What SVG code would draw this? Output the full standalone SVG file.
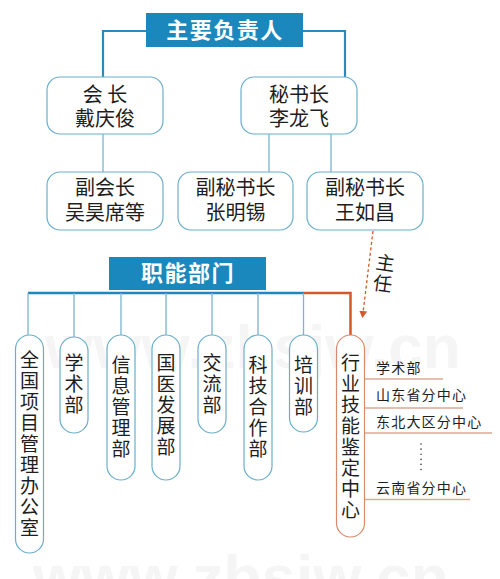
<svg xmlns="http://www.w3.org/2000/svg" width="500" height="579" viewBox="0 0 500 579">
<defs>
<style>
.t{font-family:"Noto Sans CJK SC","Noto Sans",sans-serif;fill:#1e1e1e;font-size:20px;text-anchor:middle}
.v{font-family:"Noto Sans CJK SC","Noto Sans",sans-serif;fill:#1e1e1e;font-size:19px;writing-mode:tb;text-anchor:start;letter-spacing:2px}
.h{font-family:"Noto Sans CJK SC","Noto Sans",sans-serif;fill:#ffffff;font-size:22px;font-weight:bold;text-anchor:middle;letter-spacing:1.5px}
.s{font-family:"Noto Sans CJK SC","Noto Sans",sans-serif;fill:#1e1e1e;font-size:14px;letter-spacing:1.2px}
.wm{font-family:"Liberation Sans",Arial,sans-serif;font-weight:bold;font-size:62px;fill:#f5f5f5}
.box{fill:#ffffff;stroke:#6aaecb;stroke-width:1.2}
.rbox{fill:#ffffff;stroke:#d98a6c;stroke-width:1.2}
.hd{fill:#1b88bd}
.thin{fill:none;stroke:#7ab6d0;stroke-width:1.3}
.thick{fill:none;stroke:#2a8ab8;stroke-width:2.2}
.red{fill:none;stroke:#d4582a;stroke-width:2.5}
.br{fill:none;stroke:#dcab94;stroke-width:1.3}
</style>
<marker id="ah" markerWidth="8" markerHeight="8" refX="6" refY="4" orient="auto" markerUnits="userSpaceOnUse">
<path d="M0,0 L7,4 L0,8 Z" fill="#d4582a"/>
</marker>
</defs>
<rect width="500" height="579" fill="#ffffff"/>
<g id="watermark">
<text class="wm" x="45" y="368">www.zbsjw.cn</text>
<text class="wm" x="33" y="598">www.zbsjw.cn</text>
</g>
<g id="connectors">
<path class="thick" d="M146 31 H103 V77 M303 31 H345 V77"/>
<path class="thin" d="M103 134 V172 M269 134 V172 M331 134 V172"/>
<path d="M373 231 L362.5 317" fill="none" stroke="#d4582a" stroke-width="1.3" stroke-dasharray="3 2.5" marker-end="url(#ah)"/>
<path d="M28 293 H304" fill="none" stroke="#1f87bd" stroke-width="2.5"/>
<path class="red" d="M304 293 H350.5 V335"/>
<path class="thin" d="M28 293 V335 M74 293 V337 M121 293 V335 M166 293 V335 M212 293 V335 M258 293 V335 M303.5 293 V335"/>
<path class="br" d="M365 379 H443 M365 408 H463 M365 433 H492 M365 499.5 H470"/>
<path d="M421 444 V470" fill="none" stroke="#444" stroke-width="1.6" stroke-linecap="round" stroke-dasharray="0.1 5"/>
</g>
<g id="n-main">
<rect class="hd" x="146" y="13" width="157" height="34"/>
<text class="h" x="225" y="38" font-size="23">主要负责人</text>
</g>
<g id="n-huizhang">
<rect class="box" x="47" y="77" width="116" height="57" rx="13"/>
<text class="t"><tspan x="105" y="102">会 长</tspan><tspan x="105" y="126">戴庆俊</tspan></text>
</g>
<g id="n-mishuzhang">
<rect class="box" x="241" y="77" width="116" height="57" rx="13"/>
<text class="t"><tspan x="299" y="102">秘书长</tspan><tspan x="299" y="126">李龙飞</tspan></text>
</g>
<g id="n-fuhuizhang">
<rect class="box" x="47" y="172" width="116" height="58" rx="13"/>
<text class="t"><tspan x="105" y="195">副会长</tspan><tspan x="105" y="220">吴昊席等</tspan></text>
</g>
<g id="n-fumishu1">
<rect class="box" x="178" y="172" width="115" height="58" rx="13"/>
<text class="t"><tspan x="235.5" y="195">副秘书长</tspan><tspan x="235.5" y="220">张明锡</tspan></text>
</g>
<g id="n-fumishu2">
<rect class="box" x="307" y="172" width="116" height="58" rx="13"/>
<text class="t"><tspan x="365" y="195">副秘书长</tspan><tspan x="365" y="220">王如昌</tspan></text>
</g>
<g id="label-zhuren">
<text class="v" x="384" y="253" font-size="19" transform="rotate(8 384 273)">主任</text>
</g>
<g id="n-zhineng">
<rect class="hd" x="109" y="257" width="157" height="33"/>
<text class="h" x="188" y="281">职能部门</text>
</g>
<g id="n-quanguo">
<rect class="box" x="15.5" y="335" width="28" height="218" rx="14"/>
<text class="v" x="29.5" y="350.5">全国项目管理办公室</text>
</g>
<g id="n-xueshu">
<rect class="box" x="60" y="337" width="28" height="96" rx="14"/>
<text class="v" x="74" y="353.5" letter-spacing="2.5">学术部</text>
</g>
<g id="n-xinxi">
<rect class="box" x="107" y="335" width="28" height="145" rx="14"/>
<text class="v" x="121" y="355.5" letter-spacing="1.5">信息管理部</text>
</g>
<g id="n-guoyi">
<rect class="box" x="152" y="335" width="28" height="145" rx="14"/>
<text class="v" x="166" y="353.5">国医发展部</text>
</g>
<g id="n-jiaoliu">
<rect class="box" x="198" y="335" width="28" height="98" rx="14"/>
<text class="v" x="212" y="353.5" letter-spacing="3">交流部</text>
</g>
<g id="n-keji">
<rect class="box" x="244" y="335" width="28" height="145" rx="14"/>
<text class="v" x="258" y="355.5" letter-spacing="1.8">科技合作部</text>
</g>
<g id="n-peixun">
<rect class="box" x="289.5" y="335" width="28" height="97" rx="14"/>
<text class="v" x="303.5" y="355.5">培训部</text>
</g>
<g id="n-hangye">
<rect class="rbox" x="336.5" y="335" width="28" height="202" rx="14"/>
<text class="v" x="350.5" y="353.5" letter-spacing="2.4">行业技能鉴定中心</text>
</g>
<g id="n-sub">
<text class="s" x="376" y="373">学术部</text>
<text class="s" x="376" y="400">山东省分中心</text>
<text class="s" x="376" y="427">东北大区分中心</text>
<text class="s" x="376" y="493">云南省分中心</text>
</g>
</svg>
